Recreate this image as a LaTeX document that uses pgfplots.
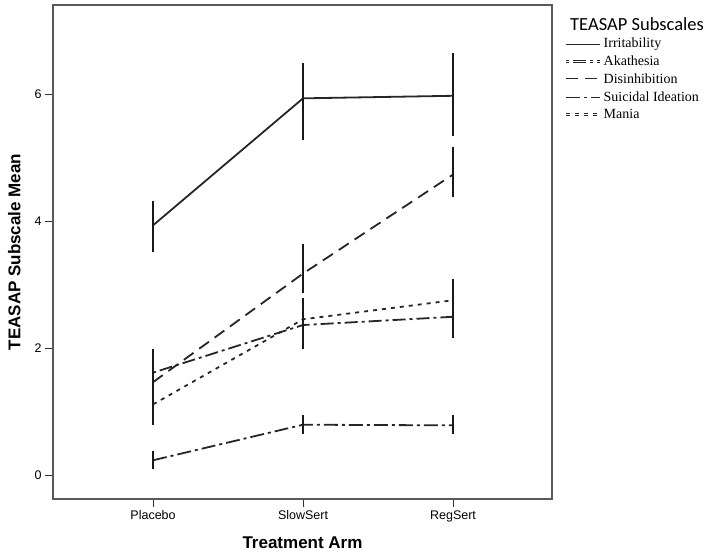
\documentclass[border=0pt]{standalone}
\usepackage{fontspec}
\setmainfont{Liberation Serif}
\setsansfont{Liberation Sans}
\newfontfamily\calib{Carlito}
\usepackage{pgfplots}
\pgfplotsset{compat=1.18}

\begin{document}
\begin{tikzpicture}
\begin{axis}[
  scale only axis, width=499pt, height=494pt,
  xmin=-0.667, xmax=2.66, ymin=-0.37, ymax=7.41,
  xtick={0,1,2}, xticklabels={Placebo,SlowSert,RegSert},
  ytick={0,2,4,6},
  tick pos=left, tick align=outside, major tick length=8pt,
  axis line style={black!65, line width=1.3pt},
  tick style={black!80, line width=1pt},
  ticklabel style={font=\sffamily\fontsize{12.5}{14}\selectfont},
  /pgf/number format/assume math mode=true,
  xlabel={Treatment Arm}, ylabel={TEASAP Subscale Mean},
  label style={font=\sffamily\bfseries\fontsize{17}{19}\selectfont},
  xlabel style={yshift=-8pt}, ylabel style={yshift=7pt},
  every axis plot/.append style={black!85,
    error bars/y dir=both, error bars/y explicit,
    error bars/error mark=none,
    error bars/error bar style={solid, line width=1.4pt, black!90}},
  legend style={at={(1,1)}, anchor=north west, xshift=12pt, yshift=-30pt,
    draw=none, fill=none, font=\fontsize{14}{15}\selectfont,
    row sep=2.5pt, inner sep=1pt},
  legend cell align=left,
  legend image code/.code={\draw[#1, line width=0.8pt, double, double distance=0.9pt] (0pt,0pt) -- (34pt,0pt);},
]
\coordinate (bl) at (rel axis cs:0,0);
\coordinate (tr) at (rel axis cs:1,1);

% Irritability
\addplot[solid, line width=1.8pt] coordinates {
  (0,3.94) += (0,0.39) -= (0,0.42)
  (1,5.94) += (0,0.55) -= (0,0.66)
  (2,5.98) += (0,0.68) -= (0,0.63)};
\addlegendentry{Irritability}
% Akathesia
\addplot[line width=1.8pt, dash pattern=on 3pt off 4pt on 13pt off 4pt] coordinates {
  (0,1.62) += (0,0.38) -= (0,0.40)
  (1,2.37) += (0,0.35) -= (0,0.37)
  (2,2.50) += (0,0.32) -= (0,0.34)};
\addlegendentry{Akathesia}
% Disinhibition
\addplot[line width=1.8pt, dash pattern=on 12pt off 7pt] coordinates {
  (0,1.47) += (0,0.40) -= (0,0.36)
  (1,3.18) += (0,0.47) -= (0,0.31)
  (2,4.74) += (0,0.43) -= (0,0.36)};
\addlegendentry{Disinhibition}
% Suicidal Ideation
\addplot[line width=1.8pt, dash pattern=on 14pt off 4pt on 3pt off 4pt] coordinates {
  (0,0.24) += (0,0.14) -= (0,0.14)
  (1,0.80) += (0,0.15) -= (0,0.15)
  (2,0.79) += (0,0.17) -= (0,0.14)};
\addlegendentry{Suicidal Ideation}
% Mania
\addplot[line width=1.8pt, dash pattern=on 4pt off 5pt] coordinates {
  (0,1.12) += (0,0.30) -= (0,0.33)
  (1,2.46) += (0,0.33) -= (0,0.32)
  (2,2.76) += (0,0.33) -= (0,0.34)};
\addlegendentry{Mania}
\end{axis}
\node[anchor=west, font=\calib\fontsize{18.5}{20}\selectfont, inner sep=0pt]
  at ([xshift=18pt,yshift=-19pt]tr) {TEASAP Subscales};
\pgfresetboundingbox
\path ([xshift=-53pt,yshift=-56pt]bl) rectangle ([xshift=165pt,yshift=5pt]tr);
\end{tikzpicture}
\end{document}
